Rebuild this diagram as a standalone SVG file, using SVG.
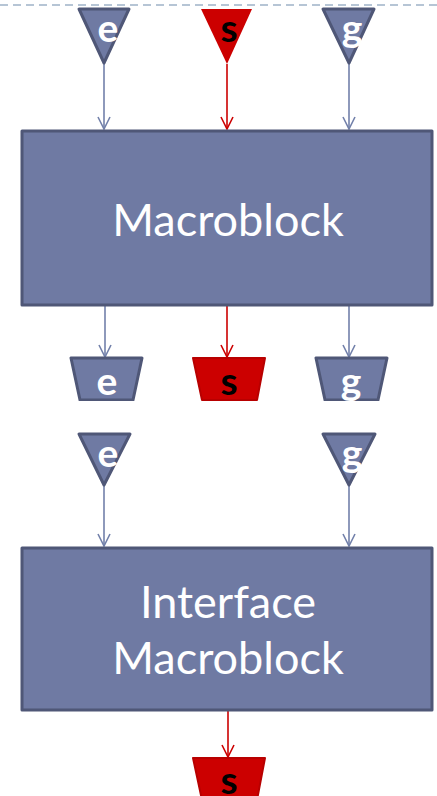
<svg xmlns="http://www.w3.org/2000/svg" width="437" height="796" viewBox="0 0 437 796">
  <style>
    .blk { fill: #6f7aa3; stroke: #4f5777; stroke-width: 3; stroke-linejoin: round; }
    .red { fill: #cc0000; }
    .redk { fill: #cc0000; stroke: #b80000; stroke-width: 2; stroke-linejoin: round; }
    .lbl { font-family: Lato, "Open Sans", sans-serif; font-size: 39px; font-weight: bold; text-anchor: middle; }
    .w { fill: #ffffff; }
    .k { fill: #000000; }
    .title { font-family: Lato, "Open Sans", sans-serif; font-size: 45px; fill: #ffffff; text-anchor: middle; }
    .ln { fill: none; stroke: #7280aa; stroke-width: 1.6; }
    .lnr { fill: none; stroke: #cc0000; stroke-width: 1.6; }
  </style>
  <defs>
    <marker id="ah" viewBox="0 0 14 14" refX="7" refY="13" markerWidth="14" markerHeight="14" markerUnits="userSpaceOnUse">
      <path d="M1,1 L7,13 L13,1" fill="none" stroke="#7280aa" stroke-width="1.6"/>
    </marker>
    <marker id="ahr" viewBox="0 0 14 14" refX="7" refY="13" markerWidth="14" markerHeight="14" markerUnits="userSpaceOnUse">
      <path d="M1,1 L7,13 L13,1" fill="none" stroke="#cc0000" stroke-width="1.6"/>
    </marker>
    <clipPath id="c1"><rect x="0" y="0" width="437" height="401"/></clipPath>
  </defs>

  <!-- dashed guide at the top edge -->
  <line x1="0" y1="5" x2="437" y2="5" stroke="#9fb2c8" stroke-width="1.5" stroke-dasharray="8,5"/>

  <!-- connectors -->
  <g id="connectors">
    <line class="ln" x1="104" y1="63" x2="104" y2="129" marker-end="url(#ah)"/>
    <line class="lnr" x1="227" y1="64" x2="227" y2="129" marker-end="url(#ahr)"/>
    <line class="ln" x1="349" y1="63" x2="349" y2="129" marker-end="url(#ah)"/>
    <line class="ln" x1="105" y1="306" x2="105" y2="357" marker-end="url(#ah)"/>
    <line class="lnr" x1="227" y1="306" x2="227" y2="357" marker-end="url(#ahr)"/>
    <line class="ln" x1="349" y1="306" x2="349" y2="357" marker-end="url(#ah)"/>
    <line class="ln" x1="104" y1="485" x2="104" y2="546" marker-end="url(#ah)"/>
    <line class="ln" x1="349" y1="485" x2="349" y2="546" marker-end="url(#ah)"/>
    <line class="lnr" x1="228" y1="711" x2="228" y2="757" marker-end="url(#ahr)"/>
  </g>

  <!-- input ports of Macroblock -->
  <g id="in-e">
    <path class="blk" d="M79,9 L129,9 L104,63 Z"/>
    <text class="lbl w" x="108" y="42">e</text>
  </g>
  <g id="in-s">
    <path class="red" d="M201,9 L252,9 L227,64 Z"/>
    <text class="lbl k" x="229" y="42">s</text>
  </g>
  <g id="in-g">
    <path class="blk" d="M323,9 L374,9 L349,63 Z"/>
    <text class="lbl w" x="352" y="42">g</text>
  </g>

  <!-- Macroblock -->
  <g id="macroblock">
    <rect class="blk" x="22" y="131" width="410" height="174"/>
    <text class="title" x="228" y="236">Macroblock</text>
  </g>

  <!-- output ports of Macroblock -->
  <g id="out-e" clip-path="url(#c1)">
    <path class="blk" d="M71,358 L142,358 L133,400 L80,400 Z"/>
    <text class="lbl w" x="107" y="395">e</text>
  </g>
  <g id="out-s" clip-path="url(#c1)">
    <path class="redk" d="M193,358 L265,358 L257,400 L202,400 Z"/>
    <text class="lbl k" x="229" y="395">s</text>
  </g>
  <g id="out-g" clip-path="url(#c1)">
    <path class="blk" d="M316,358 L387,358 L378,400 L325,400 Z"/>
    <text class="lbl w" x="351" y="395">g</text>
  </g>

  <!-- input ports of Interface Macroblock -->
  <g id="if-in-e">
    <path class="blk" d="M79,434 L130,434 L104,485 Z"/>
    <text class="lbl w" x="108" y="467">e</text>
  </g>
  <g id="if-in-g">
    <path class="blk" d="M323,434 L375,434 L349,485 Z"/>
    <text class="lbl w" x="352" y="467">g</text>
  </g>

  <!-- Interface Macroblock -->
  <g id="interface-macroblock">
    <rect class="blk" x="22" y="548" width="410" height="162"/>
    <text class="title" x="228" y="618">Interface</text>
    <text class="title" x="228" y="674">Macroblock</text>
  </g>

  <!-- output port of Interface Macroblock -->
  <g id="if-out-s">
    <path class="redk" d="M193,758 L265,758 L257,800 L202,800 Z"/>
    <text class="lbl k" x="229" y="794">s</text>
  </g>
</svg>
